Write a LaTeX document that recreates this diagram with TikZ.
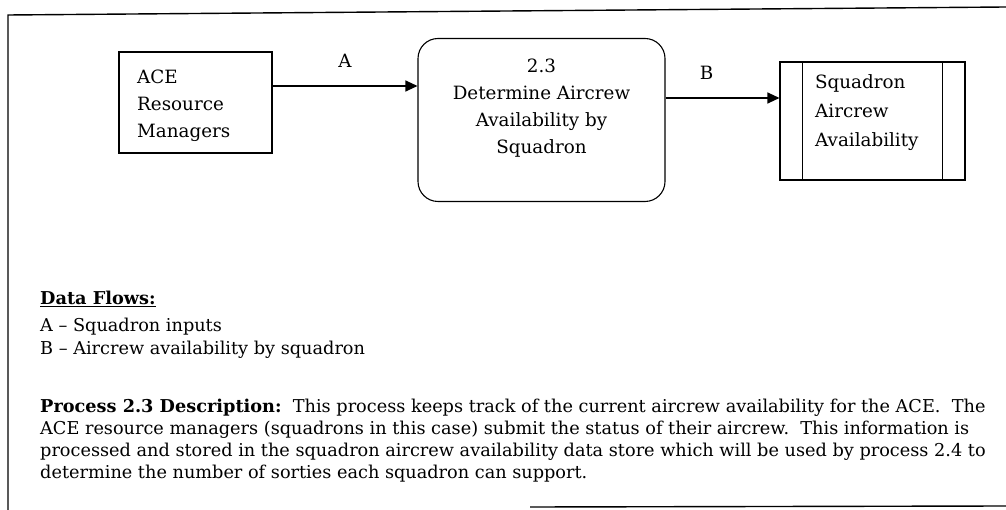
\documentclass[tikz,border=0pt]{standalone}
\usepackage{fontspec}
\setmainfont{DejaVu Serif}
\usetikzlibrary{arrows.meta}
\tikzset{
  frame/.style={line width=1.4pt},
  box/.style={draw, line width=1.1pt},
  flow/.style={line width=1.1pt, -{Triangle[length=12pt,width=11pt]}},
  dtext/.style={font=\fontsize{18.3}{27}\selectfont, inner sep=0pt},
  btext/.style={font=\fontsize{17.7}{21}\selectfont, anchor=base west, inner sep=0pt},
}
\begin{document}
\begin{tikzpicture}[x=1pt,y=-1pt]
\useasboundingbox (0,0) rectangle (1006,510);
% frame
\draw[frame] (8,510) -- (8,15) -- (1006,7);
\draw[frame] (530,507) -- (1006,506);
% external entity
\node[box, minimum width=153pt, minimum height=101pt, inner sep=0pt] (ace) at (195.5,102.5) {};
\node[dtext, align=left, anchor=north west] (acet) at (137,69.7) {ACE\\Resource\\Managers};
% process
\node[box, rounded corners=20pt, minimum width=247pt, minimum height=163pt, inner sep=0pt] (proc) at (541.5,120) {};
\node[dtext, align=center, anchor=north] (proct) at (541.5,58.7) {2.3\\Determine Aircrew\\Availability by\\Squadron};
% data store
\node[box, minimum width=185pt, minimum height=118pt, inner sep=0pt] (store) at (872.5,121) {};
\draw[line width=1.1pt] ([xshift=23pt]store.north west) -- ([xshift=23pt]store.south west);
\draw[line width=1.1pt] ([xshift=-23pt]store.north east) -- ([xshift=-23pt]store.south east);
\node[dtext, font=\fontsize{18.3}{29}\selectfont, align=left, anchor=north west] (storet) at (815,74) {Squadron\\Aircrew\\Availability};
% flows
\coordinate (a1) at (ace.east |- 0,86);
\coordinate (a2) at (proc.west |- 0,86);
\draw[flow] (a1) -- node[dtext, above=18pt] (la) {A} (a2);
\coordinate (b1) at (proc.east |- 0,98);
\coordinate (b2) at (store.west |- 0,98);
\draw[flow] (b1) -- node[dtext, pos=0.36, above=18pt] (lb) {B} (b2);
% text
\node[btext] (df) at (40,305) {\textbf{\underline{Data Flows:}}};
\node[btext] (fa) at (40,331) {A -- Squadron inputs};
\node[btext] (fb) at (40,355) {B -- Aircrew availability by squadron};
\node[btext] (p1) at (40,412) {\textbf{Process 2.3 Description:}\ \ This process keeps track of the current aircrew availability for the ACE.\ \ The};
\node[btext] (p2) at (40,434) {ACE resource managers (squadrons in this case) submit the status of their aircrew.\ \ This information is};
\node[btext] (p3) at (40,456) {processed and stored in the squadron aircrew availability data store which will be used by process 2.4 to};
\node[btext] (p4) at (40,478) {determine the number of sorties each squadron can support.};
\end{tikzpicture}
\end{document}
